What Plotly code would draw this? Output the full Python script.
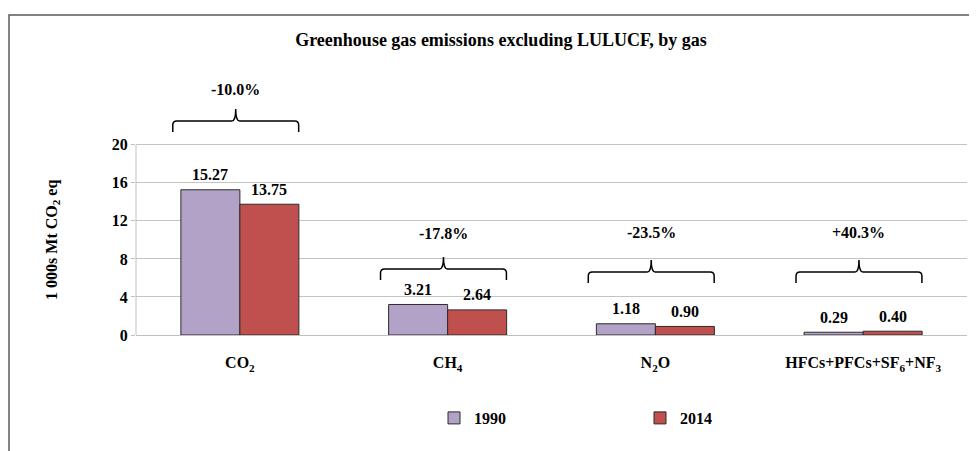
import plotly.graph_objects as go

# ---- data ----
categories = ["CO<sub>2</sub>", "CH<sub>4</sub>", "N<sub>2</sub>O", "HFCs+PFCs+SF<sub>6</sub>+NF<sub>3</sub>"]
values_1990 = [15.27, 3.21, 1.18, 0.29]
values_2014 = [13.75, 2.64, 0.90, 0.40]
change_labels = ["-10.0%", "-17.8%", "-23.5%", "+40.3%"]
series_names = ["1990", "2014"]
y_ticks = [0, 4, 8, 12, 16, 20]

# ---- layout constants ----
OFF = 8                       # page body margin of the browser
W, H = 977 - OFF, 451 - OFF
ML, MR, MT, MB = 136 - OFF, 10, 102 - OFF, 116
Y_MAX = 24.5
BARGAP = 0.432
BRACE_LEVELS = [22.5, 6.95, 6.63, 6.63]     # y (data units) of brace bar
BRACE_LABEL_SHIFT = [32, 35, 39, 39]        # px above brace bar
BRACE_HALF = 0.303
FONT = "Times New Roman, Liberation Serif, DejaVu Serif, serif"
C1990 = "#B3A2C7"
C2014 = "#C0504D"
EDGE = "#2b2b2b"

plot_h = H - MT - MB
plot_w = W - ML - MR
px_per_unit = plot_h / Y_MAX
ux_per_px = 1 / (plot_w / len(categories))

xs = list(range(len(categories)))

fig = go.Figure()
for name, vals, col in [(series_names[0], values_1990, C1990), (series_names[1], values_2014, C2014)]:
    fig.add_trace(go.Bar(
        x=xs, y=vals, name=name,
        marker=dict(color=col, line=dict(color=EDGE, width=1)),
        hoverinfo="x+y",
    ))

annotations = []
bar_w = (1 - BARGAP) / 2
for i in xs:
    for k, vals in enumerate([values_1990, values_2014]):
        xc = i + (k - 0.5) * bar_w
        annotations.append(dict(
            x=xc, y=vals[i], xref="x", yref="y", text=f"{vals[i]:.2f}",
            showarrow=False, yanchor="middle", yshift=15,
            font=dict(family=FONT, size=16, color="black", weight="bold"),
        ))

shapes = []
r = 4 * ux_per_px
ry = 4 / px_per_unit
depth = 11 / px_per_unit
tip = 12 / px_per_unit
for i in xs:
    c = i - 0.02
    L = BRACE_LEVELS[i]
    x0, x1 = c - BRACE_HALF, c + BRACE_HALF
    B, T = L - depth, L + tip
    path = (f"M{x0},{B} L{x0},{L-ry} Q{x0},{L} {x0+r},{L} L{c-r},{L} "
            f"Q{c},{L} {c},{T} Q{c},{L} {c+r},{L} L{x1-r},{L} Q{x1},{L} {x1},{L-ry} L{x1},{B}")
    shapes.append(dict(type="path", path=path, xref="x", yref="y",
                       line=dict(color="black", width=1.5)))
    annotations.append(dict(
        x=c, y=L, xref="x", yref="y", text=change_labels[i], showarrow=False,
        yanchor="middle", yshift=BRACE_LABEL_SHIFT[i],
        font=dict(family=FONT, size=16, color="black", weight="bold"),
    ))

# left axis line from 0 to 20 only
shapes.append(dict(type="line", xref="paper", yref="y", x0=0, x1=0, y0=0, y1=max(y_ticks),
                   line=dict(color="#BFBFBF", width=1)))

# screen pixel -> paper coordinates
def px_to_paper_x(px):
    return (px - OFF - ML) / plot_w

def py_to_paper_y(py):
    return (H - MB - (py - OFF)) / plot_h

shapes.append(dict(type="rect", xref="paper", yref="paper",
                   x0=px_to_paper_x(9), x1=px_to_paper_x(995),
                   y0=py_to_paper_y(480), y1=py_to_paper_y(15),
                   line=dict(color="#595959", width=1.5), fillcolor="rgba(0,0,0,0)"))

# y axis title
annotations.append(dict(
    x=px_to_paper_x(53), y=max(y_ticks) / 2, xref="paper", yref="y",
    xanchor="center", yanchor="middle",
    text="1 000s Mt CO<sub>2</sub> eq", textangle=-90, showarrow=False,
    font=dict(family=FONT, size=16, color="black", weight="bold"),
))

fig.update_layout(
    width=W, height=H,
    margin=dict(l=ML, r=MR, t=MT, b=MB, autoexpand=False),
    paper_bgcolor="white", plot_bgcolor="white",
    barmode="group", bargap=BARGAP, bargroupgap=0,
    title=dict(text="Greenhouse gas emissions excluding LULUCF, by gas",
               x=px_to_paper_x(501), xref="paper", xanchor="center",
               y=1 - (40 - OFF) / H, yanchor="middle",
               font=dict(family=FONT, size=18, color="black", weight="bold")),
    font=dict(family=FONT, size=16, color="black"),
    showlegend=True,
    legend=dict(orientation="h", x=px_to_paper_x(434), xanchor="left",
                y=py_to_paper_y(418), yanchor="middle",
                entrywidth=161, entrywidthmode="pixels",
                font=dict(family=FONT, size=16, color="black", weight="bold"),
                bgcolor="rgba(0,0,0,0)"),
    xaxis=dict(range=[-0.5, len(categories) - 0.5], tickvals=xs, ticktext=categories,
               showline=True, linecolor="#BFBFBF", linewidth=1,
               ticks="outside", ticklen=13, tickcolor="rgba(0,0,0,0)",
               showgrid=False, zeroline=False, automargin=False,
               tickfont=dict(family=FONT, size=16, color="black", weight="bold")),
    yaxis=dict(range=[0, Y_MAX], tickvals=y_ticks,
               showline=False, showgrid=True, gridcolor="#C4C4C4", gridwidth=1,
               ticks="outside", ticklen=4, tickcolor="#BFBFBF",
               zeroline=False, automargin=False,
               tickfont=dict(family=FONT, size=16, color="black", weight="bold")),
    annotations=annotations,
    shapes=shapes,
)

fig.write_html("out.html")
